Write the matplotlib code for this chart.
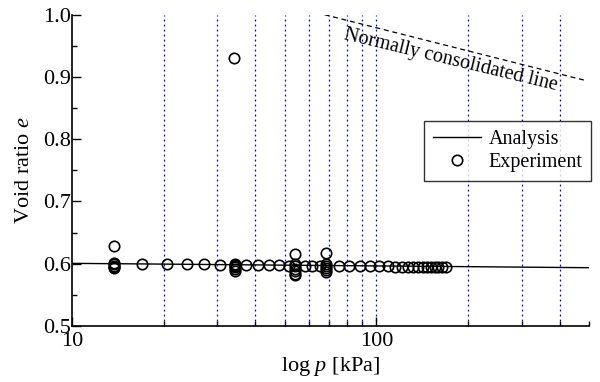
import numpy as np
import matplotlib
matplotlib.use('Agg')
import matplotlib.pyplot as plt
from matplotlib.ticker import FixedLocator, NullFormatter, FormatStrFormatter

plt.rcParams['font.family'] = ['Liberation Serif', 'DejaVu Serif']
plt.rcParams['mathtext.fontset'] = 'custom'
plt.rcParams['mathtext.rm'] = 'Liberation Serif'
plt.rcParams['mathtext.it'] = 'Liberation Serif:italic'

# 解析結果
p_analysis = [10, 20, 50, 100, 200, 500]
e_analysis = [0.6006, 0.5994, 0.5977, 0.5965, 0.5953, 0.5936]

# 実験値
p_exp = [13.7, 13.7, 13.7, 13.7, 13.7, 13.7,
         17.0, 20.5, 23.9, 27.2, 30.6,
         34.2, 34.2, 34.2, 34.2, 34.2, 34.2, 34.1,
         37.4, 40.8, 44.3, 47.8, 51.5,
         54.2, 54.2, 54.2, 54.2, 54.2, 54.2, 54.2,
         58.1, 61.5, 65.2,
         68.5, 68.5, 68.5, 68.5, 68.5, 68.5,
         75.1, 81.5, 88.6, 95.3, 101.8, 108.9, 115.4,
         121.0, 126.6, 132.2, 137.3, 141.9, 146.6, 151.2, 155.2, 159.6, 163.7, 169.3]
e_exp = [0.628, 0.601, 0.599, 0.597, 0.595, 0.593,
         0.600, 0.5995, 0.599, 0.599, 0.5985,
         0.600, 0.597, 0.594, 0.591, 0.588, 0.5985, 0.931,
         0.598, 0.598, 0.5978, 0.5975, 0.597,
         0.616, 0.599, 0.596, 0.592, 0.588, 0.584, 0.582,
         0.597, 0.5968, 0.5966,
         0.618, 0.599, 0.596, 0.593, 0.590, 0.587,
         0.5965, 0.5963, 0.596, 0.5958, 0.5957, 0.5956, 0.5955,
         0.5955, 0.5954, 0.5953, 0.5953, 0.5952, 0.5952, 0.5951, 0.5951, 0.595, 0.595, 0.595]

# 正規圧密線
p_ncl = [67.5, 480]
e_ncl = [1.0, 0.895]

# 補助線
p_guides = [20, 30, 40, 50, 60, 70, 80, 90, 100, 200, 300, 400]

fig = plt.figure(figsize=(6, 3.82), dpi=100)
ax = fig.add_axes([0.12, 0.1466, 0.862, 0.815])

for pg in p_guides:
    ax.axvline(pg, color='#0000ee', linestyle=(0, (1.5, 2.5)), linewidth=0.9, zorder=1)

ax.plot(p_analysis, e_analysis, color='k', linewidth=1.0, label='Analysis', zorder=2)
ax.plot(p_exp, e_exp, linestyle='none', marker='o', markersize=7.5, markerfacecolor='none',
        markeredgecolor='k', markeredgewidth=1.2, label='Experiment', zorder=3)
ax.plot(p_ncl, e_ncl, color='k', linestyle=(0, (4, 3)), linewidth=0.9, zorder=2)

ax.text(176, 0.927, 'Normally consolidated line', rotation=-13.5, fontsize=14.5,
        ha='center', va='center')

ax.set_xscale('log')
ax.set_xlim(10, 500)
ax.set_ylim(0.5, 1.0)
ax.xaxis.set_major_locator(FixedLocator([10, 100]))
ax.xaxis.set_minor_locator(FixedLocator([20, 30, 40, 50, 60, 70, 80, 90, 200, 300, 400, 500]))
ax.xaxis.set_major_formatter(FormatStrFormatter('%d'))
ax.xaxis.set_minor_formatter(NullFormatter())
ax.yaxis.set_major_locator(FixedLocator([0.5, 0.6, 0.7, 0.8, 0.9, 1.0]))
ax.yaxis.set_minor_locator(FixedLocator([0.55, 0.65, 0.75, 0.85, 0.95]))
ax.yaxis.set_major_formatter(FormatStrFormatter('%.1f'))

ax.tick_params(which='major', direction='in', length=6.5, width=1, labelsize=16, pad=1)
ax.tick_params(which='minor', direction='in', length=3.5, width=1)
ax.tick_params(axis='x', which='major', pad=4)

ax.spines['top'].set_visible(False)
ax.spines['right'].set_visible(False)
ax.spines['left'].set_linewidth(1.2)
ax.spines['bottom'].set_linewidth(1.2)

ax.set_xlabel('log $\\it{p}$ [kPa]', fontsize=16, labelpad=3)
ax.set_ylabel('Void ratio $\\it{e}$', fontsize=16, labelpad=6)

leg = ax.legend(loc='upper right', bbox_to_anchor=(1.004, 0.6585), borderaxespad=0,
                fontsize=14.5, frameon=True, fancybox=False, handlelength=2.4,
                handletextpad=0.35, borderpad=0.45, labelspacing=0.2)
leg.get_frame().set_edgecolor('k')
leg.get_frame().set_linewidth(1.0)

fig.savefig('out.png', dpi=100)
